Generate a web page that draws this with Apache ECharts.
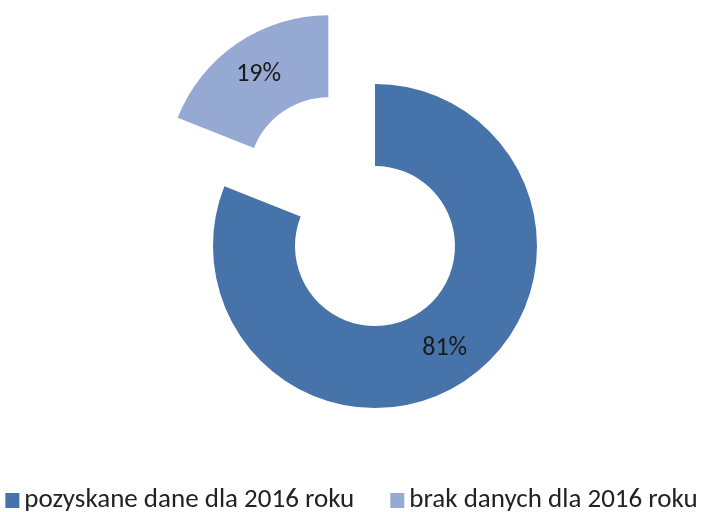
<!DOCTYPE html>
<html>
<head>
<meta charset="utf-8">
<script src="https://cdn.jsdelivr.net/npm/echarts@6/dist/echarts.min.js"></script>
<style>
  html, body { margin: 0; padding: 0; background: #fff; }
  #chart { width: 703px; height: 512px; }
</style>
</head>
<body>
<div id="chart"></div>
<script>
// Data
const categories = ['pozyskane dane dla 2016 roku', 'brak danych dla 2016 roku']
const values = [81, 19]
const colors = ['#4674AA', '#95A9D2']

const fontFamily = 'Carlito, Lato, "Noto Sans", sans-serif'

const chart = echarts.init(document.getElementById('chart'))

const option = {
  animation: false,
  legend: {
    top: 487,
    left: 'center',
    padding: 0,
    itemWidth: 14,
    itemHeight: 15,
    itemGap: 36,
    icon: 'rect',
    textStyle: {
      fontFamily: fontFamily,
      fontSize: 27,
      color: '#222'
    },
    data: categories
  },
  series: [
    {
      type: 'pie',
      center: [375, 246],
      radius: [80, 162],
      startAngle: 90,
      selectedMode: 'single',
      selectedOffset: 83,
      emphasis: { disabled: true },
      label: {
        show: true,
        position: 'inside',
        formatter: '{c}%',
        fontFamily: fontFamily,
        fontSize: 26,
        color: '#1a1a1a'
      },
      labelLine: { show: false },
      data: categories.map((name, i) => ({
        name,
        value: values[i],
        selected: i === 1,
        itemStyle: { color: colors[i] }
      }))
    }
  ]
}

chart.setOption(option)
</script>
</body>
</html>
